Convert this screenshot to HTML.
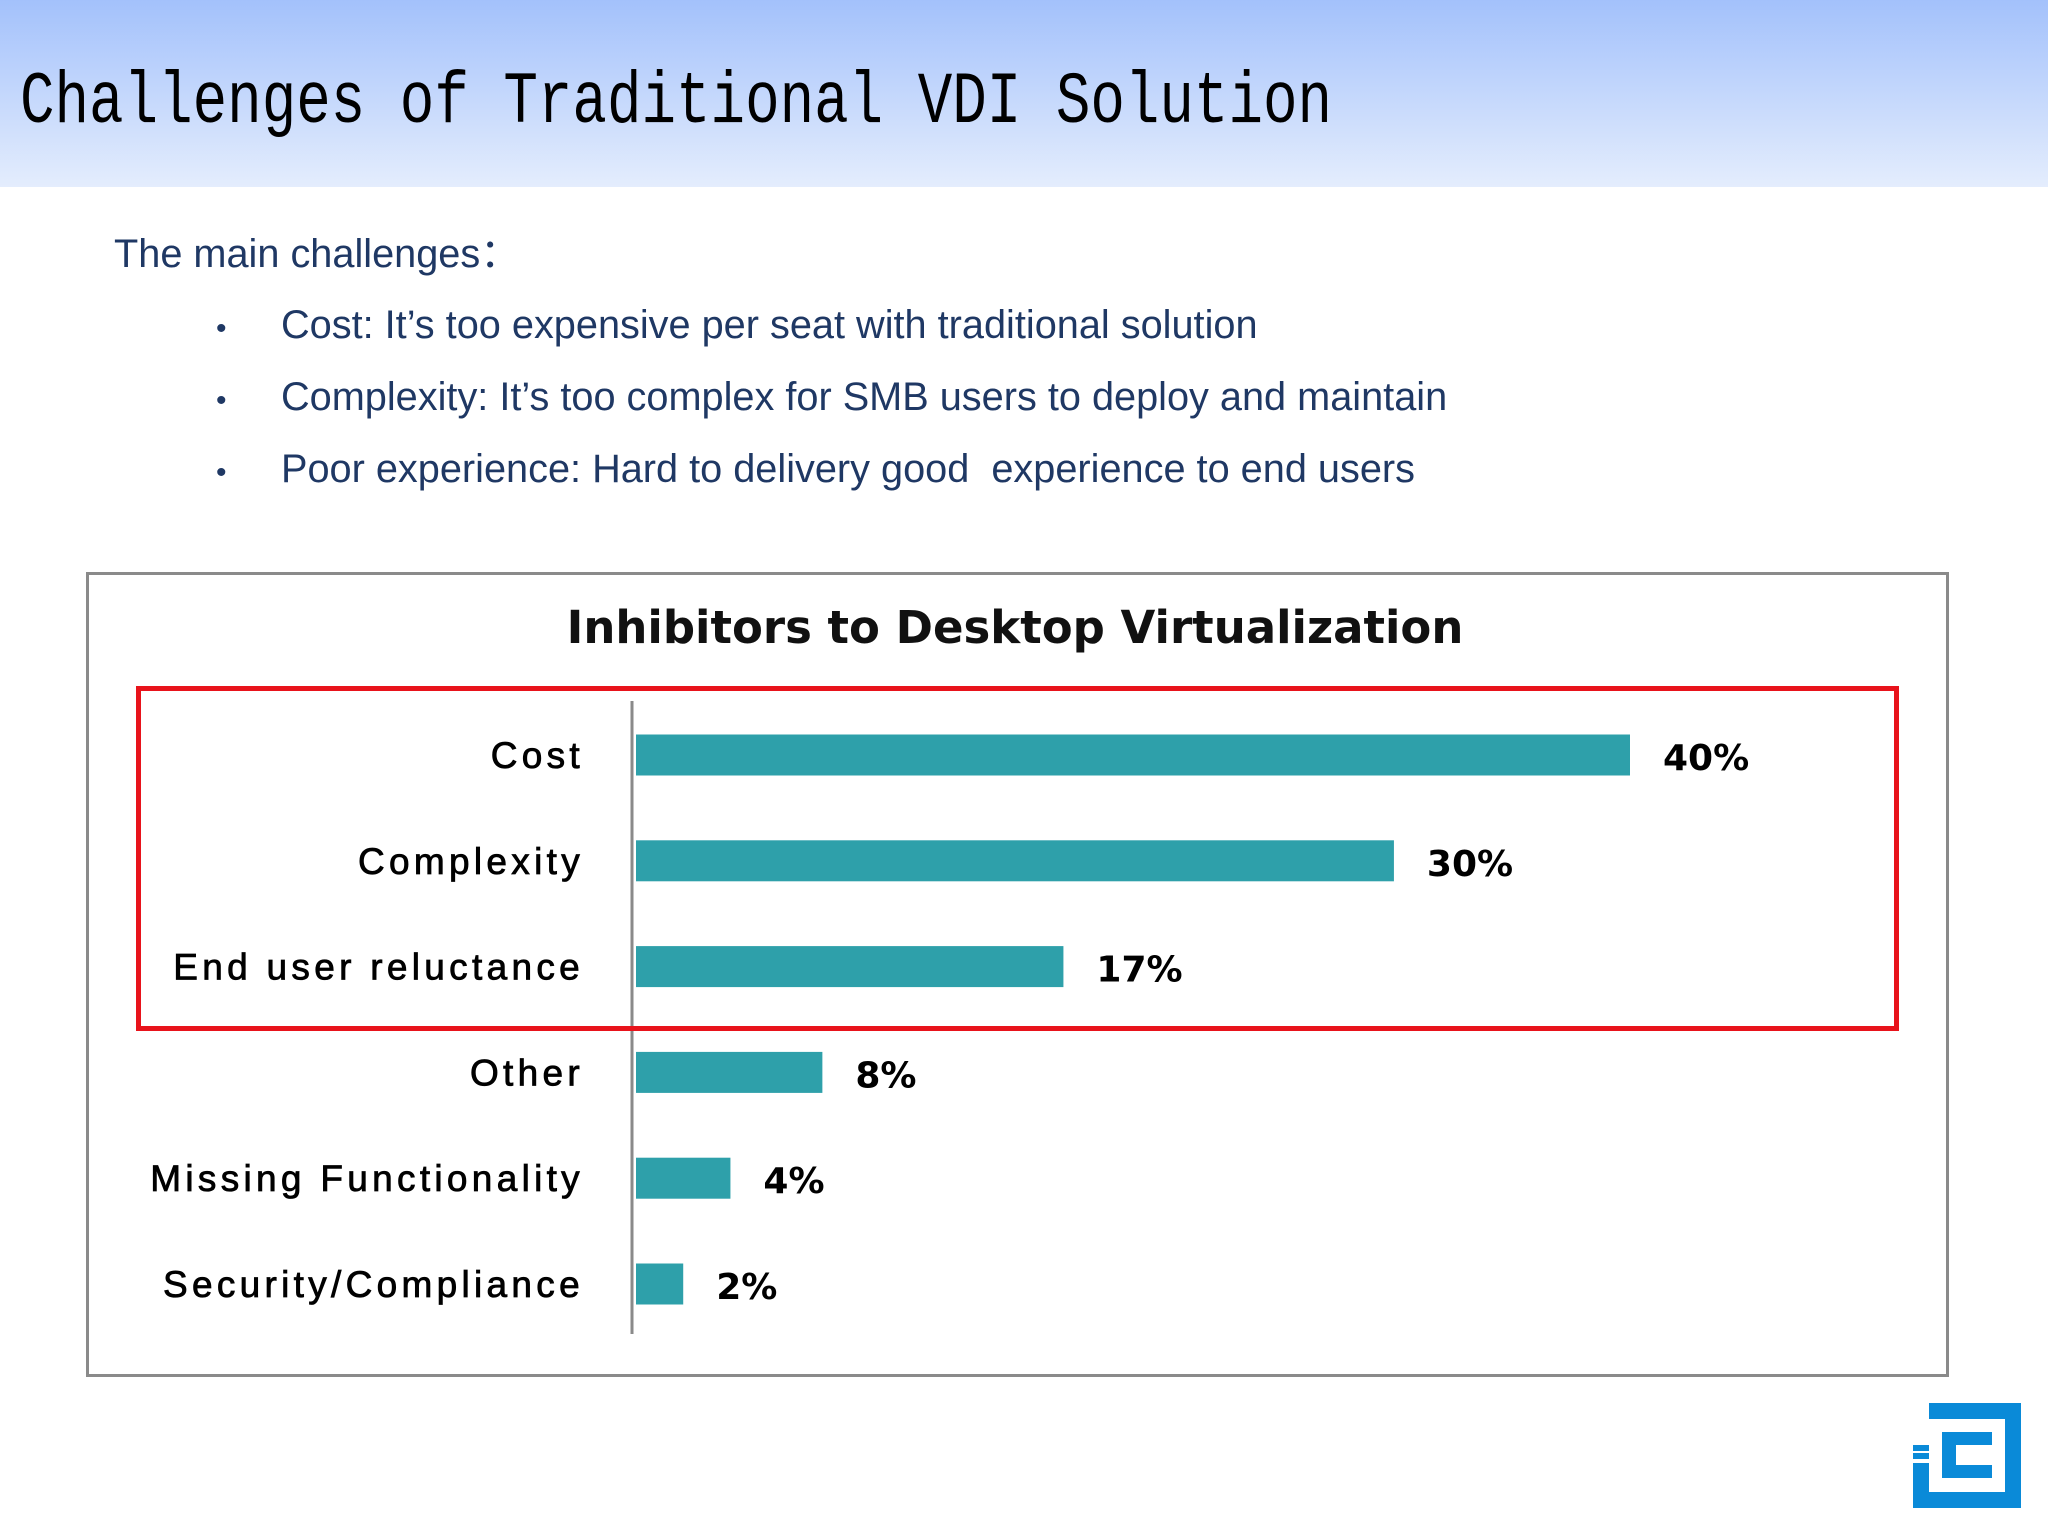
<!DOCTYPE html>
<html><head><meta charset="utf-8"><style>
html,body{margin:0;padding:0;}
body{width:2048px;height:1536px;position:relative;background:#fff;overflow:hidden;font-family:"Liberation Sans",sans-serif;}
#hdr{position:absolute;left:0;top:0;width:2048px;height:187px;background:linear-gradient(#a3c1fb,#e4edfd);}
#title{position:absolute;left:20px;top:62px;font-family:"Liberation Mono",monospace;font-size:64px;color:#000;white-space:nowrap;transform:scale(0.899,1.15);transform-origin:left top;}
.txt{position:absolute;color:#1f3864;font-size:39.7px;white-space:nowrap;}
.bul{position:absolute;color:#1f3864;font-size:30px;}
#box{position:absolute;left:86px;top:572px;width:1857px;height:799px;border:3px solid #8a8a8a;}
#red{position:absolute;left:136px;top:686px;width:1753px;height:335px;border:5px solid #e8131b;}
svg{position:absolute;left:0;top:0;}
#logo{position:absolute;}
</style></head><body>
<div id="hdr"></div>
<div id="title">Challenges of Traditional VDI Solution</div>
<div class="txt" style="left:114px;top:222px;">The main challenges：</div>
<div class="bul" style="left:216px;top:312px;">•</div>
<div class="txt" style="left:281px;top:303px;">Cost: It’s too expensive per seat with traditional solution</div>
<div class="bul" style="left:216px;top:384px;">•</div>
<div class="txt" style="left:281px;top:375px;">Complexity: It’s too complex for SMB users to deploy and maintain</div>
<div class="bul" style="left:216px;top:456px;">•</div>
<div class="txt" style="left:281px;top:447px;">Poor experience: Hard to delivery good &nbsp;experience to end users</div>
<div id="box"></div>
<svg id="chart" width="2048" height="1536">
<text x="1015" y="643" text-anchor="middle" font-family="DejaVu Sans, sans-serif" font-size="45" font-weight="bold" fill="#111">Inhibitors to Desktop Virtualization</text>
</svg>
<div id="red"></div>
<svg id="logo" style="left:1913px;top:1403px;" width="110" height="106" viewBox="0 0 110 106">
<path d="M16 0H108V105H0V60H16V89H92V16H16Z" fill="#0a8ad8"/>
<rect x="29" y="29" width="50" height="13" fill="#0a8ad8"/>
<rect x="29" y="29" width="14" height="46" fill="#0a8ad8"/>
<rect x="29" y="62" width="50" height="13" fill="#0a8ad8"/>
<rect x="0" y="50" width="16" height="6" fill="#0a8ad8"/>
<rect x="0" y="42" width="16" height="6" fill="#0a8ad8"/>
</svg>
<script>
const categories=["Cost","Complexity","End user reluctance","Other","Missing Functionality","Security/Compliance"];
const values=[40,30.5,17.2,7.5,3.8,1.9];
const valueLabels=["40%","30%","17%","8%","4%","2%"];
const NS="http://www.w3.org/2000/svg";
const svg=document.getElementById('chart');
const x0=636, pxPer=24.85;
function xScale(v){return x0+v*pxPer;}
function yScale(i){return 755+i*105.8;}
const axis=document.createElementNS(NS,'line');
axis.setAttribute('x1',632);axis.setAttribute('x2',632);axis.setAttribute('y1',701);axis.setAttribute('y2',1334);
axis.setAttribute('stroke','#8a8a8a');axis.setAttribute('stroke-width','3');


svg.appendChild(axis);
categories.forEach((c,i)=>{
  const y=yScale(i);
  const r=document.createElementNS(NS,'rect');
  r.setAttribute('x',x0);r.setAttribute('y',y-20.5);r.setAttribute('width',xScale(values[i])-x0);r.setAttribute('height',41);
  r.setAttribute('fill','#2ea0aa');
  
  
  svg.appendChild(r);
  const t=document.createElementNS(NS,'text');
  t.setAttribute('x',584);t.setAttribute('y',y+13);t.setAttribute('text-anchor','end');
  t.setAttribute('font-family','Liberation Sans, sans-serif');t.setAttribute('font-size','37');t.setAttribute('letter-spacing','4.3');t.setAttribute('fill','#000');
  t.setAttribute('stroke','#000');t.setAttribute('stroke-width','0.8');
  t.textContent=c;
  
  
  svg.appendChild(t);
  const v=document.createElementNS(NS,'text');
  v.setAttribute('x',xScale(values[i])+33);v.setAttribute('y',y+15);
  v.setAttribute('font-family','DejaVu Sans, sans-serif');v.setAttribute('font-size','36');v.setAttribute('font-weight','bold');v.setAttribute('fill','#000');
  v.textContent=valueLabels[i];
  
  
  svg.appendChild(v);
});
</script>
</body></html>
